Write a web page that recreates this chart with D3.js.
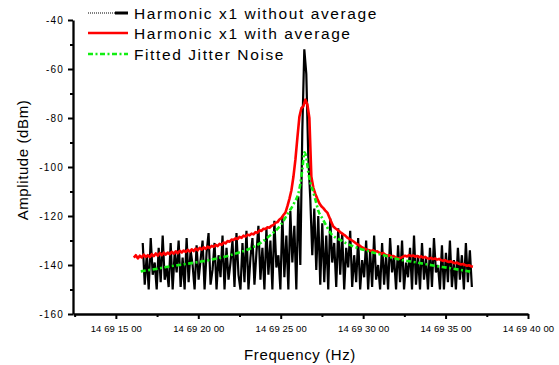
<!DOCTYPE html>
<html>
<head>
<meta charset="utf-8">
<script src="https://cdn.jsdelivr.net/npm/d3@7"></script>
<style>
    body { margin: 0; background: #fff; }
    text { font-family: Arial, "Liberation Sans", sans-serif; fill: #000; }
</style>
</head>
<body>
<div id="chart"></div>
<script>
'use strict';

// Axis ticks
const freqTicks = [14691500, 14692000, 14692500, 14693000, 14693500, 14694000];
const freqMinor = [14691250, 14691750, 14692250, 14692750, 14693250, 14693750];
const ampTicks = [-40, -60, -80, -100, -120, -140, -160];
const ampMinor = [-50, -70, -90, -110, -130, -150];

// Harmonic x1 without average (spectrum bins, Hz start / step)
const rawStartHz = 14691663;
const rawStepHz = 12.1;
const rawAmp = [
    -131, -148, -136, -150, -129, -144, -139, -150, -133, -147,
    -128, -146, -141, -149, -131, -150, -135, -143, -130, -149,
    -137, -150, -129, -147, -134, -140, -150, -132, -146, -138,
    -130, -150, -135, -127, -148, -142, -131, -150, -136, -145,
    -128, -150, -133, -146, -139, -130, -149, -127, -144, -150,
    -131, -147, -126, -150, -137, -129, -148, -135, -124, -146,
    -133, -150, -125, -144, -130, -150, -122, -141, -136, -150,
    -120, -145, -128, -150, -118, -139, -124, -150, -112, -140,
    -85, -52, -62, -96, -113, -136, -117, -142, -120, -148,
    -123, -147, -128, -150, -121, -139, -131, -149, -125, -144,
    -127, -150, -133, -141, -126, -149, -136, -147, -129, -150,
    -138, -145, -130, -150, -134, -149, -128, -146, -140, -150,
    -131, -148, -136, -150, -129, -143, -137, -150, -132, -147,
    -130, -150, -139, -145, -133, -150, -128, -148, -136, -150,
    -131, -146, -137, -150, -133, -149, -129, -143, -140, -150,
    -132, -150, -135, -147, -130, -149, -138, -150, -133, -146,
    -136, -150, -131, -147, -134, -149
];

// Harmonic x1 with average
const avgStartHz = 14691609;
const avgStepHz = 12.1;
const avgAmp = [
    -137.0, -136.0, -137.3, -136.2, -136.9, -135.8, -136.7, -136.0, -136.8, -135.6,
    -136.4, -135.3, -136.2, -135.1, -136.0, -135.0, -135.8, -134.9, -135.6, -134.6,
    -135.4, -134.4, -135.2, -134.2, -134.9, -134.1, -134.7, -133.8, -134.5, -133.6,
    -134.3, -133.3, -134.0, -133.0, -133.7, -132.8, -133.4, -132.5, -133.0, -132.2,
    -132.6, -131.8, -132.3, -131.4, -131.8, -130.8, -131.2, -130.2, -130.5, -129.6,
    -129.8, -129.1, -129.4, -128.5, -128.9, -128.0, -128.4, -127.6, -127.9, -127.2,
    -127.5, -126.6, -126.8, -125.8, -126.1, -125.2, -125.3, -124.6, -124.8, -124.0,
    -123.6, -122.8, -122.5, -121.4, -120.8, -119.6, -118.6, -116.0, -113.0, -109.5,
    -104.0, -97.0, -88.0, -79.5, -76.0, -75.2, -72.5, -74.5, -80.0, -104.0,
    -108.5, -111.0, -113.0, -114.8, -116.0, -116.8, -117.8, -118.6, -120.5, -122.5,
    -124.3, -125.0, -125.6, -126.2, -126.9, -127.5, -128.0, -128.8, -129.3, -129.8,
    -130.3, -130.9, -131.5, -132.0, -132.6, -133.0, -133.4, -133.8, -134.0, -134.3,
    -134.0, -134.6, -134.4, -135.0, -135.4, -135.1, -135.8, -136.2, -136.0, -136.5,
    -136.3, -136.8, -137.1, -137.4, -137.0, -136.6, -136.2, -136.5, -136.0, -136.4,
    -136.1, -136.6, -136.3, -136.8, -136.5, -137.0, -136.7, -137.2, -137.5, -137.1,
    -137.6, -137.3, -137.8, -137.5, -138.0, -138.3, -138.0, -138.5, -138.8, -138.5,
    -139.0, -139.3, -139.0, -139.5, -139.8, -139.6, -140.0, -140.3, -140.1, -140.5,
    -140.7
];

// Fitted jitter noise
const fitFreq = [
    14691651, 14691742, 14691833, 14691924, 14692015, 14692117, 14692214, 14692317,
    14692378, 14692438, 14692499, 14692547, 14692583, 14692608, 14692620, 14692632,
    14692644, 14692656, 14692668, 14692680, 14692692, 14692711, 14692729, 14692753,
    14692777, 14692801, 14692862, 14692941, 14693044, 14693146, 14693225, 14693328,
    14693425, 14693528, 14693606, 14693649
];
const fitAmp = [
    -142.6, -141.6, -140.5, -139.6, -138.6, -137.3, -135.6, -133.2,
    -131.0, -127.8, -123.8, -118.6, -114.5, -110.5, -106.5, -100.5,
    -94.0, -96.5, -102.5, -106.5, -109.0, -113.5, -118.0, -121.0,
    -124.0, -126.8, -129.8, -132.4, -134.6, -136.4, -137.8, -139.0,
    -140.2, -141.3, -142.2, -142.7
];

// Legend
const legendNames = ['Harmonic x1 without average', 'Harmonic x1 with average', 'Fitted Jitter Noise'];

/* ---------------------------------------------------------
    Class: SpectrumChart
 --------------------------------------------------------- */
class SpectrumChart {

    constructor(_parent) {
        this.parent = _parent;
        this.initVis();
    }

    initVis() {
        const vis = this;

        vis.w = 559;
        vis.h = 365;

        vis.svg = d3.select(`#${vis.parent}`)
            .append('svg')
            .attr('width', vis.w)
            .attr('height', vis.h);

        // Scales
        vis.x = d3.scaleLinear().domain([14691240, 14694000]).range([73, 528]);
        vis.y = d3.scaleLinear().domain([-160, -40]).range([314, 20]);

        vis.wrangleData();
    }

    wrangleData() {
        const vis = this;

        vis.rawData = rawAmp.map((a, i) => ({f: rawStartHz + i * rawStepHz, a: a}));
        vis.avgData = avgAmp.map((a, i) => ({f: avgStartHz + i * avgStepHz, a: a}));
        vis.fitData = fitFreq.map((f, i) => ({f: f, a: fitAmp[i]}));

        vis.updateVis();
    }

    updateVis() {
        const vis = this;

        const line = d3.line()
            .x(d => vis.x(d.f))
            .y(d => vis.y(d.a));

        // Data lines
        vis.svg.append('path')
            .datum(vis.rawData)
            .attr('d', line)
            .attr('fill', 'none')
            .attr('stroke', '#000')
            .attr('stroke-width', 2.2)
            .attr('stroke-linejoin', 'bevel');

        vis.svg.append('path')
            .datum(vis.avgData)
            .attr('d', line)
            .attr('fill', 'none')
            .attr('stroke', '#ff0000')
            .attr('stroke-width', 2.6)
            .attr('stroke-linejoin', 'round');

        vis.svg.append('path')
            .datum(vis.fitData)
            .attr('d', line.curve(d3.curveMonotoneX))
            .attr('fill', 'none')
            .attr('stroke', '#11ee11')
            .attr('stroke-width', 2.6)
            .attr('stroke-dasharray', '5,2.5,2,2.5');

        // Axes
        const fmtFreq = d => {
            const s = String(d);
            return `${s.slice(0, 2)} ${s.slice(2, 4)} ${s.slice(4, 6)} ${s.slice(6)}`;
        };

        const xAxis = vis.svg.append('g')
            .attr('transform', 'translate(0,314)')
            .call(d3.axisBottom(vis.x).tickValues(freqTicks).tickFormat(fmtFreq)
                .tickSize(5).tickSizeOuter(0).tickPadding(6));
        vis.svg.append('g')
            .attr('transform', 'translate(0,314)')
            .call(d3.axisBottom(vis.x).tickValues(freqMinor).tickFormat('').tickSize(3).tickSizeOuter(0))
            .select('.domain').remove();

        const yAxis = vis.svg.append('g')
            .attr('transform', 'translate(73,0)')
            .call(d3.axisLeft(vis.y).tickValues(ampTicks).tickFormat(d => String(d))
                .tickSize(5).tickSizeOuter(0).tickPadding(4));
        vis.svg.append('g')
            .attr('transform', 'translate(73,0)')
            .call(d3.axisLeft(vis.y).tickValues(ampMinor).tickFormat('').tickSize(3).tickSizeOuter(0))
            .select('.domain').remove();

        vis.svg.selectAll('.domain').attr('stroke-width', 2.3).attr('stroke', '#000');
        vis.svg.selectAll('.tick line').attr('stroke-width', 2).attr('stroke', '#000');
        xAxis.selectAll('.tick text').style('font-size', '9.5px').style('letter-spacing', '0.1px');
        yAxis.selectAll('.tick text').style('font-size', '10px').style('letter-spacing', '1.2px');

        // Axis titles
        vis.svg.append('text')
            .attr('x', 300)
            .attr('y', 360)
            .attr('text-anchor', 'middle')
            .style('font-size', '15px')
            .style('letter-spacing', '0.6px')
            .text('Frequency (Hz)');

        vis.svg.append('text')
            .attr('transform', 'translate(28,160) rotate(-90)')
            .attr('text-anchor', 'middle')
            .style('font-size', '15px')
            .style('letter-spacing', '0.6px')
            .text('Amplitude (dBm)');

        // Legend
        const lg = vis.svg.append('g');
        const rows = [13, 33, 54];

        lg.append('line').attr('x1', 88).attr('x2', 115).attr('y1', rows[0]).attr('y2', rows[0])
            .attr('stroke', '#000').attr('stroke-width', 1).attr('stroke-dasharray', '1,1');
        lg.append('line').attr('x1', 115).attr('x2', 128).attr('y1', rows[0]).attr('y2', rows[0])
            .attr('stroke', '#000').attr('stroke-width', 3);
        lg.append('line').attr('x1', 88).attr('x2', 128).attr('y1', rows[1]).attr('y2', rows[1])
            .attr('stroke', '#ff0000').attr('stroke-width', 2.6);
        lg.append('line').attr('x1', 88).attr('x2', 128).attr('y1', rows[2]).attr('y2', rows[2])
            .attr('stroke', '#11ee11').attr('stroke-width', 2.6).attr('stroke-dasharray', '5,2.5,2,2.5');

        lg.selectAll('.legText')
            .data(legendNames)
            .join('text')
            .attr('class', 'legText')
            .attr('x', 134)
            .attr('y', (d, i) => rows[i] + 5.5)
            .style('font-size', '15.5px')
            .style('letter-spacing', '1.6px')
            .text(d => d);
    }
}

new SpectrumChart('chart');
</script>
</body>
</html>
